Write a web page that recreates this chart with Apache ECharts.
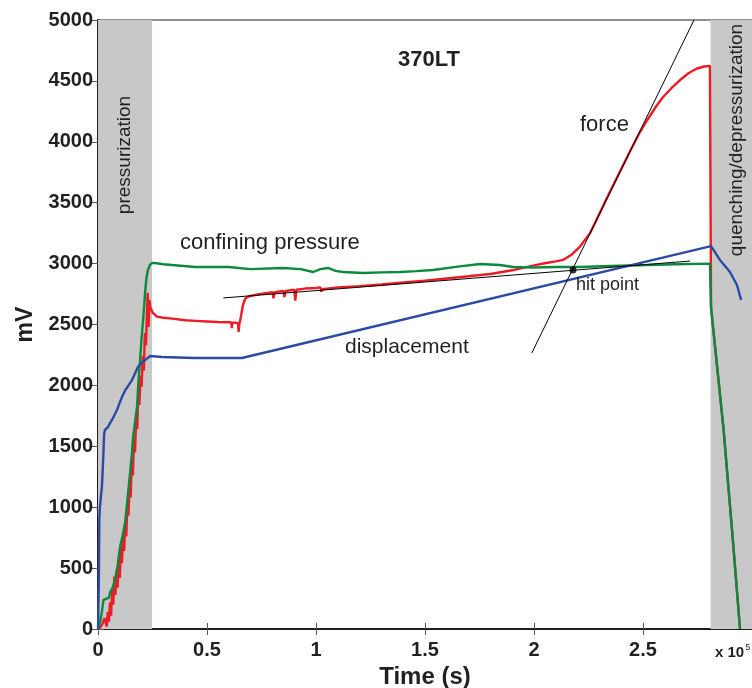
<!DOCTYPE html>
<html>
<head>
<meta charset="utf-8">
<script src="https://cdn.jsdelivr.net/npm/echarts@6/dist/echarts.min.js"></script>
<style>
  html, body { margin: 0; padding: 0; background: #fff; }
  #chart { width: 752px; height: 688px; }
</style>
</head>
<body>
<div id="chart"></div>
<script>
// Time in units of 1e5 s, signals in mV.
const xTicks = [0, 0.5, 1, 1.5, 2, 2.5];
const yTicks = [0, 500, 1000, 1500, 2000, 2500, 3000, 3500, 4000, 4500, 5000];

const pressurizationSpan = [0, 0.248];
const quenchingSpan = [2.81, 3.0];

// force (red)
const forceTime = [0.005, 0.02, 0.03, 0.04, 0.045, 0.05, 0.055, 0.06, 0.065, 0.07, 0.075, 0.08, 0.085, 0.09, 0.095, 0.1, 0.105, 0.11, 0.115, 0.12, 0.125, 0.13, 0.135, 0.14, 0.145, 0.15, 0.155, 0.16, 0.165, 0.17, 0.175, 0.18, 0.185, 0.19, 0.195, 0.2, 0.205, 0.21, 0.215, 0.22, 0.225, 0.228, 0.232, 0.236, 0.24, 0.25, 0.27, 0.3, 0.34, 0.4, 0.45, 0.5, 0.55, 0.6, 0.612, 0.614, 0.616, 0.63, 0.642, 0.645, 0.648, 0.655, 0.665, 0.675, 0.69, 0.72, 0.76, 0.8, 0.805, 0.81, 0.85, 0.855, 0.86, 0.9, 0.905, 0.91, 0.95, 1.0, 1.02, 1.025, 1.03, 1.1, 1.2, 1.3, 1.4, 1.5, 1.6, 1.7, 1.8, 1.9, 2.0, 2.05, 2.1, 2.133, 2.17, 2.211, 2.257, 2.3, 2.335, 2.39, 2.44, 2.48, 2.518, 2.56, 2.592, 2.63, 2.67, 2.71, 2.748, 2.78, 2.807, 2.812, 2.8121, 2.87, 2.915, 2.945];
const forceMV = [0, 40, 90, 20, 140, 60, 220, 110, 320, 200, 430, 280, 480, 340, 580, 420, 680, 540, 780, 640, 880, 760, 1060, 930, 1200, 1080, 1380, 1260, 1560, 1450, 1740, 1640, 1940, 1840, 2080, 1990, 2240, 2120, 2430, 2330, 2620, 2760, 2480, 2700, 2640, 2600, 2565, 2555, 2548, 2535, 2530, 2525, 2520, 2518, 2516, 2470, 2515, 2515, 2510, 2440, 2500, 2560, 2660, 2712, 2730, 2742, 2755, 2765, 2715, 2765, 2775, 2725, 2775, 2785, 2695, 2785, 2795, 2800, 2805, 2770, 2790, 2805, 2815, 2828, 2845, 2860, 2878, 2896, 2915, 2945, 2985, 3003, 3018, 3030, 3070, 3140, 3250, 3410, 3540, 3740, 3920, 4060, 4175, 4290, 4368, 4440, 4507, 4565, 4602, 4618, 4622, 4615, 2640, 1630, 670, 0];

// confining pressure (green)
const confiningTime = [0, 0.01, 0.017, 0.025, 0.032, 0.04, 0.05, 0.055, 0.065, 0.078, 0.09, 0.101, 0.112, 0.124, 0.135, 0.147, 0.155, 0.161, 0.17, 0.179, 0.186, 0.193, 0.2, 0.208, 0.216, 0.222, 0.229, 0.238, 0.248, 0.26, 0.3, 0.34, 0.445, 0.6, 0.697, 0.85, 0.93, 0.987, 1.02, 1.055, 1.09, 1.124, 1.216, 1.3, 1.385, 1.46, 1.537, 1.65, 1.752, 1.844, 1.904, 2.0, 2.1, 2.211, 2.35, 2.52, 2.65, 2.807, 2.812, 2.87, 2.915, 2.945];
const confiningMV = [0, 60, 130, 240, 238, 250, 255, 300, 330, 402, 520, 673, 760, 870, 1060, 1281, 1430, 1576, 1700, 1823, 2050, 2208, 2390, 2560, 2758, 2880, 2947, 2990, 3005, 3005, 2995, 2988, 2972, 2972, 2955, 2964, 2955, 2931, 2955, 2964, 2940, 2931, 2923, 2928, 2931, 2938, 2947, 2975, 2997, 2988, 2972, 2968, 2972, 2972, 2980, 2988, 2995, 3000, 2640, 1630, 670, 0];

// displacement (blue)
const displacementTime = [0, 0.004, 0.006, 0.009, 0.013, 0.018, 0.024, 0.028, 0.032, 0.046, 0.055, 0.064, 0.075, 0.087, 0.1, 0.11, 0.125, 0.14, 0.156, 0.17, 0.183, 0.2, 0.216, 0.239, 0.294, 0.445, 0.66, 2.812, 2.82, 2.853, 2.899, 2.931, 2.95];
const displacementMV = [0, 400, 900, 1002, 1080, 1166, 1400, 1600, 1634, 1658, 1690, 1716, 1755, 1798, 1860, 1905, 1960, 2000, 2044, 2100, 2151, 2185, 2208, 2241, 2233, 2225, 2225, 3144, 3150, 3030, 2931, 2824, 2701];

// tangent construction for the hit point
const baselineFit = [[0.575, 2718], [2.716, 3021]];
const loadingFit = [[1.99, 2266], [2.734, 5000]];
const hitPoint = [[2.179, 2947]];

const zip = (t, v) => t.map((x, i) => [x, v[i]]);

const FONT = "'Liberation Sans', Arial, Helvetica, sans-serif";
const TXT = '#231f20';

const chart = echarts.init(document.getElementById('chart'), null, { renderer: 'canvas' });

chart.setOption({
  animation: false,
  backgroundColor: '#fff',
  textStyle: { fontFamily: FONT },
  grid: {
    left: 98, top: 20, right: 0, bottom: 59,
    outerBoundsMode: 'none', containLabel: false,
    show: true, borderColor: '#231f20', borderWidth: 1
  },
  xAxis: [{
    type: 'value', min: 0, max: 3.0, interval: 0.5,
    axisLine: { show: true, onZero: false, lineStyle: { color: '#231f20', width: 2 } },
    axisTick: { show: true, inside: true, length: 6, lineStyle: { color: '#555', width: 1 } },
    splitLine: { show: false },
    axisLabel: {
      margin: 11, color: TXT, fontSize: 20, fontWeight: 'bold', fontFamily: FONT,
      formatter: v => (xTicks.indexOf(Math.round(v * 10) / 10) >= 0 ? String(v) : '')
    },
    name: 'Time (s)', nameLocation: 'middle', nameGap: 36,
    nameTextStyle: { color: TXT, fontSize: 24, fontWeight: 'bold', fontFamily: FONT }
  }, {
    type: 'value', position: 'top', min: 0, max: 3.0, interval: 0.5,
    axisLine: { show: false }, axisLabel: { show: false }, splitLine: { show: false },
    axisTick: { show: true, inside: true, length: 6, lineStyle: { color: '#555', width: 1 } }
  }],
  yAxis: [{
    type: 'value', min: 0, max: 5000, interval: 500,
    axisLine: { show: true, onZero: false, lineStyle: { color: '#231f20', width: 2 } },
    axisTick: { show: true, inside: true, length: 6, lineStyle: { color: '#555', width: 1 } },
    splitLine: { show: false },
    axisLabel: {
      margin: 5, color: TXT, fontSize: 20, fontWeight: 'bold', fontFamily: FONT,
      formatter: v => (yTicks.indexOf(v) >= 0 ? String(v) : '')
    },
    name: 'mV', nameLocation: 'middle', nameGap: 57, nameRotate: 90,
    nameTextStyle: { color: TXT, fontSize: 23, fontWeight: 'bold', fontFamily: FONT }
  }, {
    type: 'value', position: 'right', min: 0, max: 5000, interval: 500,
    axisLine: { show: false }, axisLabel: { show: false }, splitLine: { show: false },
    axisTick: { show: true, inside: true, length: 6, lineStyle: { color: '#555', width: 1 } }
  }],
  series: [
    {
      name: 'phases', type: 'line', data: [], z: 1, silent: true,
      markArea: {
        silent: true,
        itemStyle: { color: '#c8c8c8' },
        data: [
          [{ xAxis: pressurizationSpan[0] }, { xAxis: pressurizationSpan[1] }],
          [{ xAxis: quenchingSpan[0] }, { xAxis: quenchingSpan[1] }]
        ]
      }
    },
    {
      name: 'force', type: 'line', data: zip(forceTime, forceMV), showSymbol: false, z: 3,
      lineStyle: { color: '#ec1c24', width: 2.4 }
    },
    {
      name: 'confining pressure', type: 'line', data: zip(confiningTime, confiningMV), showSymbol: false, z: 4,
      lineStyle: { color: '#0b8a3e', width: 2.4 }
    },
    {
      name: 'displacement', type: 'line', data: zip(displacementTime, displacementMV), showSymbol: false, z: 5,
      lineStyle: { color: '#2b4aa6', width: 2.4 }
    },
    {
      name: 'baseline fit', type: 'line', data: baselineFit, showSymbol: false, z: 6,
      lineStyle: { color: '#000', width: 1 }
    },
    {
      name: 'loading fit', type: 'line', data: loadingFit, showSymbol: false, z: 6,
      lineStyle: { color: '#000', width: 1 }
    },
    {
      name: 'hit point', type: 'scatter', data: hitPoint, symbolSize: 7, z: 7,
      itemStyle: { color: '#000' }
    }
  ],
  graphic: [
    { type: 'text', z: 100, x: 429, y: 60, style: { text: '370LT', fill: TXT, font: 'bold 22px ' + FONT, textAlign: 'center', textVerticalAlign: 'middle' } },
    { type: 'text', z: 100, x: 180, y: 243, style: { text: 'confining pressure', fill: TXT, font: '22px ' + FONT, textVerticalAlign: 'middle' } },
    { type: 'text', z: 100, x: 580, y: 125, style: { text: 'force', fill: TXT, font: '22px ' + FONT, textVerticalAlign: 'middle' } },
    { type: 'text', z: 100, x: 345, y: 347, style: { text: 'displacement', fill: TXT, font: '21px ' + FONT, textVerticalAlign: 'middle' } },
    { type: 'text', z: 100, x: 576, y: 285, style: { text: 'hit point', fill: TXT, font: '18px ' + FONT, textVerticalAlign: 'middle' } },
    { type: 'text', z: 100, x: 125, y: 155, rotation: Math.PI / 2, style: { text: 'pressurization', fill: TXT, font: '19px ' + FONT, textAlign: 'center', textVerticalAlign: 'middle' } },
    { type: 'text', z: 100, x: 737, y: 140, rotation: Math.PI / 2, style: { text: 'quenching/depressurization', fill: TXT, font: '19px ' + FONT, textAlign: 'center', textVerticalAlign: 'middle' } },
    {
      type: 'text', z: 100, x: 715, y: 643,
      style: {
        text: '{a|x 10}{b|5}', fill: TXT,
        rich: {
          a: { font: 'bold 15px ' + FONT, fill: TXT, verticalAlign: 'bottom' },
          b: { font: '9px ' + FONT, fill: TXT, verticalAlign: 'top', padding: [0, 0, 8, 1] }
        }
      }
    }
  ]
});
</script>
</body>
</html>
